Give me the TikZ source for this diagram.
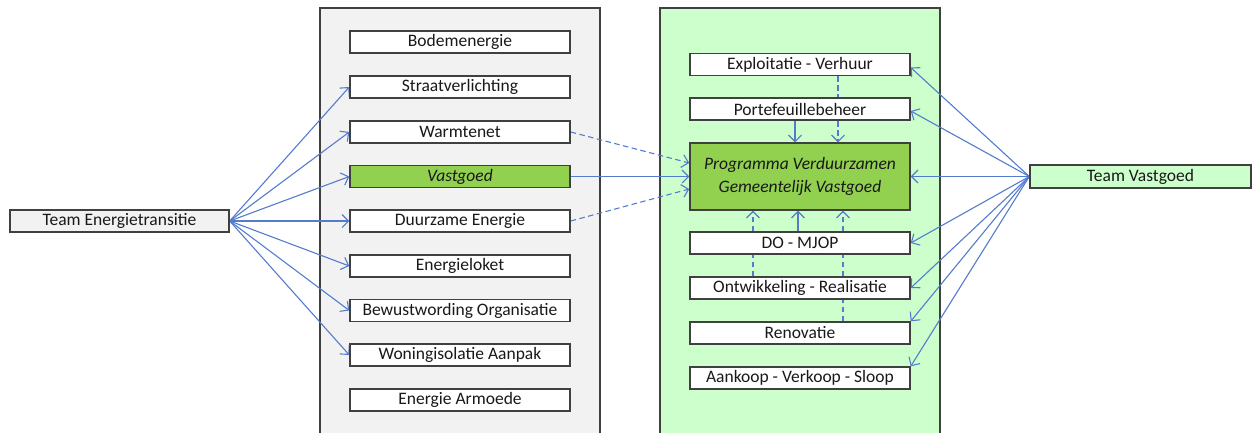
\documentclass[tikz,border=0pt]{standalone}
\usepackage{fontspec}
\setmainfont{Carlito}
\usetikzlibrary{arrows.meta}
\definecolor{edgeblue}{RGB}{84,124,204}
\definecolor{boxline}{RGB}{64,64,64}
\definecolor{grayfill}{RGB}{242,242,242}
\definecolor{lightgreen}{RGB}{204,255,204}
\definecolor{midgreen}{RGB}{146,208,80}
\pgfdeclarelayer{back}
\pgfdeclarelayer{edges}
\pgfsetlayers{back,edges,main}
\begin{document}
\begin{tikzpicture}[x=1pt,y=-1pt,
  every node/.style={font=\fontsize{17.5}{20}\selectfont, text=black!90},
  itembox/.style={draw=boxline, line width=1.4pt, fill=white, minimum width=220pt, minimum height=22pt, inner sep=0pt},
  greenbox/.style={itembox, fill=midgreen},
  teambox/.style={itembox, minimum width=220pt},
  conn/.style={draw=edgeblue, line width=1.1pt, -{Straight Barb[length=6.5pt,width=13pt]}},
  dconn/.style={conn, dash pattern=on 5.5pt off 3.5pt},
  container/.style={draw=boxline, line width=1.4pt}
]
\useasboundingbox (0,0) rectangle (1256,432);

% left team
\node[teambox, fill=grayfill, minimum width=219pt] (te) at (119.5,221) {Team Energietransitie};
% left column
\node[itembox] (bod) at (460,42) {Bodemenergie};
\node[itembox] (str) at (460,87) {Straatverlichting};
\node[itembox] (war) at (460,132) {Warmtenet};
\node[greenbox] (vas) at (460,176.5) {\itshape Vastgoed};
\node[itembox] (duu) at (460,221) {Duurzame Energie};
\node[itembox] (enl) at (460,266) {Energieloket};
\node[itembox] (bew) at (460,310.5) {Bewustwording Organisatie};
\node[itembox] (won) at (460,355) {Woningisolatie Aanpak};
\node[itembox] (arm) at (460,400) {Energie Armoede};
% right column
\node[itembox] (exp) at (800,64.5) {Exploitatie - Verhuur};
\node[itembox] (por) at (800,109) {Portefeuillebeheer};
\node[greenbox, minimum height=67pt, align=center, font=\fontsize{17.5}{23}\selectfont\itshape] (prg) at (800,176.5) {Programma Verduurzamen\\Gemeentelijk Vastgoed};
\node[itembox] (dom) at (800,243) {DO - MJOP};
\node[itembox] (ont) at (800,288) {Ontwikkeling - Realisatie};
\node[itembox] (ren) at (800,333) {Renovatie};
\node[itembox] (aan) at (800,378) {Aankoop - Verkoop - Sloop};
% right team
\node[teambox, fill=lightgreen, minimum width=221pt, minimum height=23pt] (tv) at (1140.5,176.5) {Team Vastgoed};

\begin{pgfonlayer}{back}
  \draw[container, fill=grayfill] (320,8) rectangle (600,436);
  \draw[container, fill=lightgreen] (660,8) rectangle (940,436);
\end{pgfonlayer}

\begin{pgfonlayer}{edges}
  \foreach \t in {str,war,vas,duu,enl,bew,won}
    \draw[conn] (te.east) -- (\t.west);
  \draw[dconn] (war.east) -- ([yshift=13.5pt]prg.west);
  \draw[conn] (vas.east) -- (prg.west);
  \draw[dconn] (duu.east) -- ([yshift=-12.5pt]prg.west);
  % top verticals
  \draw[conn] ([xshift=-5pt]por.south) -- ([xshift=-5pt]prg.north);
  \draw[dconn] ([xshift=38pt]exp.south) -- ([xshift=38pt]prg.north);
  % bottom verticals
  \draw[dconn] ([xshift=-47pt]ont.north) -- ([xshift=-47pt]prg.south);
  \draw[conn] ([xshift=-2pt]dom.north) -- ([xshift=-2pt]prg.south);
  \draw[dconn] ([xshift=43pt]ren.north) -- ([xshift=43pt]prg.south);
  % right team arrows
  \draw[conn] (tv.west) -- ([yshift=-3pt]exp.east);
  \draw[conn] (tv.west) -- ([yshift=-2pt]por.east);
  \draw[conn] (tv.west) -- (prg.east);
  \draw[conn] (tv.west) -- (dom.east);
  \draw[conn] (tv.west) -- (ont.east);
  \draw[conn] (tv.west) -- (ren.north east);
  \draw[conn] (tv.west) -- (aan.north east);
\end{pgfonlayer}
\end{tikzpicture}
\end{document}
